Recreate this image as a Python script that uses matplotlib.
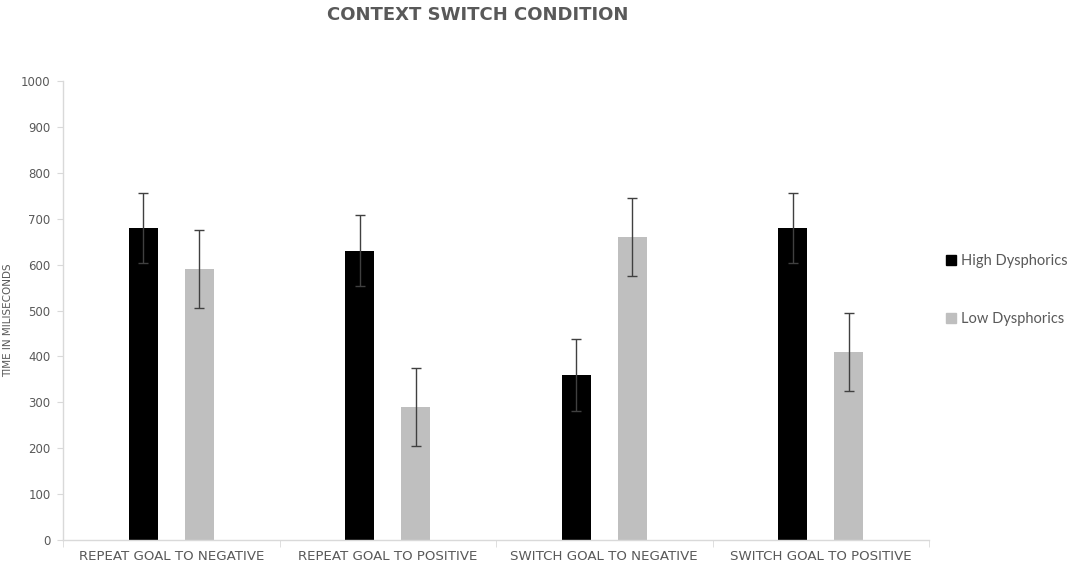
import matplotlib
matplotlib.use("Agg")
import matplotlib.pyplot as plt
import numpy as np
from matplotlib.patches import Patch

categories = ["REPEAT GOAL TO NEGATIVE", "REPEAT GOAL TO POSITIVE",
              "SWITCH GOAL TO NEGATIVE", "SWITCH GOAL TO POSITIVE"]
high_values = [680, 630, 360, 680]
high_errors = [77, 77, 78, 77]
low_values = [590, 290, 660, 410]
low_errors = [85, 85, 85, 85]
series_names = ["High Dysphorics", "Low Dysphorics"]
y_ticks = [0, 100, 200, 300, 400, 500, 600, 700, 800, 900, 1000]

fig = plt.figure(figsize=(10.72, 5.68), dpi=100)
ax = fig.add_axes([63/1072, 1-540/568, (929-63)/1072, (540-81)/568])

x = np.arange(len(categories))
w = 0.134
off = 0.13
err_kw = dict(ecolor="#404040", elinewidth=1, capsize=3.5, capthick=1)
ax.bar(x - off, high_values, w, yerr=high_errors, color="#000000", error_kw=err_kw)
ax.bar(x + off, low_values, w, yerr=low_errors, color="#bfbfbf", error_kw=err_kw)

ax.set_xlim(-0.5, len(categories) - 0.5)
ax.set_ylim(0, 1000)
ax.set_yticks(y_ticks)
ax.set_yticklabels([str(v) for v in y_ticks])
for s in ["top", "right"]:
    ax.spines[s].set_visible(False)
for s in ["left", "bottom"]:
    ax.spines[s].set_color("#d9d9d9")
    ax.spines[s].set_linewidth(1)
ax.tick_params(axis="y", colors="#d9d9d9", labelcolor="#595959", length=4, labelsize=8.5, pad=5)
ax.set_xticks(x)
ax.set_xticklabels(categories, fontsize=9.6, color="#595959", fontfamily="DejaVu Sans")
ax.tick_params(axis="x", length=0, pad=7)
ax.set_xticks(np.arange(-0.5, len(categories)), minor=True)
ax.tick_params(axis="x", which="minor", length=5, color="#d9d9d9")

fig.text(8/1072, 1-320/568, "TIME IN MILISECONDS", rotation=90, fontsize=7.5,
         color="#595959", ha="center", va="center")
fig.text(478/1072, 1-15/568, "CONTEXT SWITCH CONDITION", fontsize=13,
         fontweight="bold", color="#595959", ha="center", va="center",
         fontfamily="DejaVu Sans")

handles = [Patch(color="#000000"), Patch(color="#bfbfbf")]
leg = fig.legend(handles, series_names, loc="center left",
                 bbox_to_anchor=(933/1072, 1-290/568), frameon=False,
                 handlelength=0.65, handleheight=0.65, handletextpad=0.4,
                 labelspacing=3.0, prop={"family": "Lato", "size": 10.5})
for t in leg.get_texts():
    t.set_color("#595959")

fig.savefig("out.png", dpi=100)
